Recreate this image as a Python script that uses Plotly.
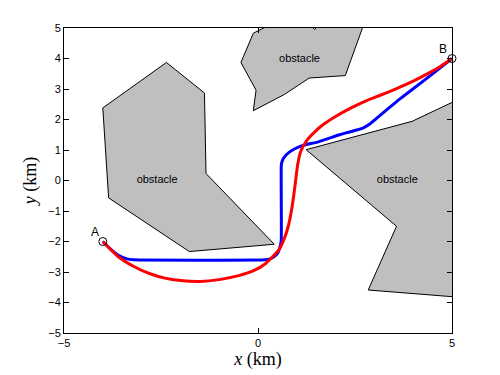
import plotly.graph_objects as go

# Obstacles (km)
obs_left_x = [-4.0, -2.36, -1.38, -1.34, 0.42, -1.77, -3.85, -4.0]
obs_left_y = [2.38, 3.87, 2.87, 0.23, -2.09, -2.33, -0.57, 2.38]

obs_top_x = [-0.44, -0.12, 0.3, 1.35, 1.46, 1.57, 2.72, 2.25, 1.32, 0.68, -0.12, -0.05, -0.44]
obs_top_y = [3.87, 4.83, 5.1, 5.1, 4.95, 5.1, 5.1, 3.44, 3.36, 2.82, 2.29, 2.96, 3.87]

obs_right_x = [1.24, 3.97, 5.5, 5.5, 2.84, 3.57, 1.24]
obs_right_y = [1.01, 1.94, 2.86, -3.86, -3.59, -1.50, 1.01]

# Paths
blue_x = [-4.0, -3.8, -3.6, -3.4, -3.2, 0.2, 0.35, 0.48, 0.56, 0.6, 0.6, 0.63, 0.7, 0.8, 0.95,
          1.2, 1.5, 2.1, 2.7, 2.9, 3.6, 4.3, 5.0]
blue_y = [-2.0, -2.25, -2.45, -2.56, -2.6, -2.6, -2.55, -2.43, -2.22, -1.95, 0.5, 0.66, 0.8, 0.92, 1.04,
          1.17, 1.25, 1.5, 1.72, 1.87, 2.62, 3.3, 4.0]

red_x = [-4.0, -3.6, -3.2, -2.8, -2.4, -2.0, -1.5, -1.0, -0.5, -0.1, 0.2, 0.4, 0.55, 0.68, 0.78,
         0.86, 0.92, 0.97, 1.02, 1.1, 1.25, 1.45, 1.7, 2.0, 2.4, 2.8, 3.2, 3.6, 4.0, 4.4, 4.7, 5.0]
red_y = [-2.0, -2.5, -2.82, -3.05, -3.2, -3.28, -3.31, -3.25, -3.12, -2.95, -2.72, -2.47, -2.25, -1.9, -1.5,
         -1.0, -0.5, 0.0, 0.5, 0.95, 1.3, 1.58, 1.85, 2.1, 2.38, 2.62, 2.82, 3.03, 3.26, 3.52, 3.74, 4.0]

pts_x = [-4.0, 5.0]
pts_y = [-2.0, 4.0]
pts_labels = ["A", "B"]

labels_x = [-2.6, 1.07, 3.59]
labels_y = [0.0, 3.96, 0.0]
labels_text = ["obstacle", "obstacle", "obstacle"]

fig = go.Figure()
for ox, oy in [(obs_left_x, obs_left_y), (obs_top_x, obs_top_y), (obs_right_x, obs_right_y)]:
    fig.add_trace(go.Scatter(x=ox, y=oy, mode="lines", fill="toself", fillcolor="#bfbfbf",
                             line=dict(color="black", width=1), hoverinfo="skip"))

fig.add_trace(go.Scatter(x=blue_x, y=blue_y, mode="lines", line=dict(color="#0000ff", width=3, shape="spline", smoothing=0.3)))
fig.add_trace(go.Scatter(x=red_x, y=red_y, mode="lines", line=dict(color="#ff0000", width=3, shape="spline", smoothing=0.6)))
fig.add_trace(go.Scatter(x=pts_x, y=pts_y, mode="markers",
                         marker=dict(symbol="circle-open", size=8, color="black", line=dict(width=1)),
                         cliponaxis=False))

fig.add_trace(go.Scatter(x=labels_x, y=labels_y, mode="text", text=labels_text,
                         textfont=dict(family="Liberation Sans, Arial", size=11, color="black")))

fig.add_annotation(x=pts_x[0], y=pts_y[0], text=pts_labels[0], showarrow=False, xanchor="right", yanchor="bottom",
                   xshift=-2, yshift=1, font=dict(family="Liberation Sans, Arial", size=12, color="black"))
fig.add_annotation(x=pts_x[1], y=pts_y[1], text=pts_labels[1], showarrow=False, xanchor="right", yanchor="bottom",
                   xshift=-3, yshift=1, font=dict(family="Liberation Sans, Arial", size=12, color="black"))

axis_common = dict(showgrid=False, zeroline=False, showline=True, linecolor="black", linewidth=1,
                   mirror="ticks", ticks="inside", ticklen=5, tickcolor="black",
                   tickfont=dict(family="Liberation Sans, Arial", size=11, color="black"))
fig.update_xaxes(range=[-5, 5], tickvals=[-5, 0, 5],
                 title=dict(text="<i>x</i> (km)", font=dict(family="Liberation Serif, Times New Roman", size=18, color="black"), standoff=4),
                 **axis_common)
fig.update_yaxes(range=[-5, 5], dtick=1, **axis_common,
                 title=dict(text="<i>y</i> (km)", font=dict(family="Liberation Serif, Times New Roman", size=18, color="black"), standoff=6))

fig.update_layout(width=500, height=375, margin=dict(l=56, r=56, t=20, b=50),
                  plot_bgcolor="white", paper_bgcolor="white", showlegend=False)

fig.write_html("out.html")
